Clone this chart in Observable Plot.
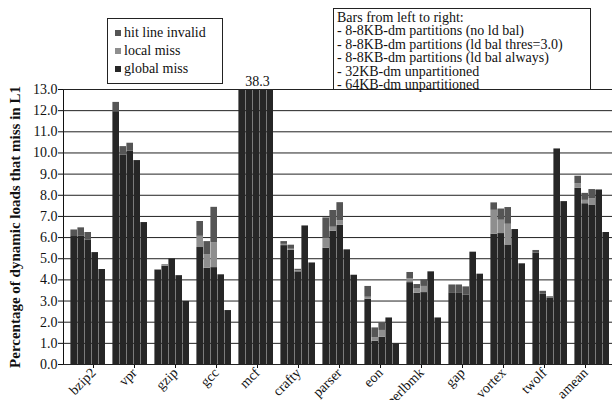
<!DOCTYPE html>
<html>
<head>
<meta charset="utf-8">
<script src="https://cdn.jsdelivr.net/npm/d3@7"></script>
<script src="https://cdn.jsdelivr.net/npm/@observablehq/plot@0.6"></script>
<style>
  body { margin: 0; background: #fff; }
  #wrap { position: relative; width: 612px; height: 400px; overflow: hidden; font-family: "Liberation Serif", "Times New Roman", serif; }
  #wrap svg { position: absolute; left: 0; top: 0; }
  .box { position: absolute; background: #fff; border: 1px solid #222; box-sizing: border-box; font-family: "Liberation Serif", "Times New Roman", serif !important; font-size: 14px; color: #111; }
  #leg1 { left: 107px; top: 18px; width: 116px; height: 66px; padding: 5px 0 0 7px; }
  #leg1 .row { height: 18px; line-height: 18px; white-space: nowrap; }
  #leg1 .sw { display: inline-block; width: 6px; height: 6px; margin-right: 3px; vertical-align: 1px; }
  #leg2 { left: 333px; top: 8px; width: 258px; height: 82px; padding: 2px 0 0 3px; line-height: 13.4px; white-space: nowrap; }
</style>
</head>
<body>
<div id="wrap"></div>
<script>
const benchmarks = ["bzip2","vpr","gzip","gcc","mcf","crafty","parser","eon","perlbmk","gap","vortex","twolf","amean"];
const configs = [
  "8-8KB-dm partitions (no ld bal)",
  "8-8KB-dm partitions (ld bal thres=3.0)",
  "8-8KB-dm partitions (ld bal always)",
  "32KB-dm unpartitioned",
  "64KB-dm unpartitioned"
];
const seriesNames = ["global miss", "local miss", "hit line invalid"];
const seriesColors = ["#262626", "#8e8e8e", "#555555"];

// values per benchmark, one entry per configuration (left to right)
const globalMiss = [
  [6.05, 6.08, 5.89, 5.29, 4.49],
  [11.95, 9.89, 10.08, 9.64, 6.71],
  [4.45, 4.65, 4.99, 4.20, 2.98],
  [5.53, 4.55, 4.58, 4.24, 2.55],
  [38.3, 38.3, 38.3, 38.3, 38.3],
  [5.62, 5.40, 4.38, 6.55, 4.80],
  [5.50, 6.30, 6.58, 5.42, 4.22],
  [3.09, 1.10, 1.29, 2.20, 0.98],
  [3.87, 3.37, 3.40, 4.38, 2.20],
  [3.39, 3.39, 3.29, 5.31, 4.27],
  [6.16, 6.19, 5.65, 6.38, 4.76],
  [5.26, 3.32, 3.15, 10.19, 7.70],
  [8.33, 7.60, 7.54, 8.25, 6.24]
];
const localMiss = [
  [0, 0, 0, 0, 0],
  [0, 0, 0, 0, 0],
  [0.03, 0.03, 0, 0, 0],
  [0.53, 0.63, 1.18, 0, 0],
  [0, 0, 0, 0, 0],
  [0.06, 0.05, 0.05, 0, 0],
  [0.45, 0.19, 0.22, 0, 0],
  [0.09, 0.16, 0.32, 0, 0],
  [0.19, 0.20, 0.29, 0, 0],
  [0, 0, 0, 0, 0],
  [1.13, 0.63, 0.98, 0, 0],
  [0, 0, 0.03, 0, 0],
  [0.22, 0.16, 0.29, 0, 0]
];
const hitInvalid = [
  [0.31, 0.38, 0.35, 0, 0],
  [0.44, 0.41, 0.38, 0, 0],
  [0.01, 0.03, 0, 0, 0],
  [0.70, 0.63, 1.67, 0, 0],
  [0, 0, 0, 0, 0],
  [0.13, 0.19, 0.07, 0, 0],
  [0.98, 0.79, 0.85, 0, 0],
  [0.51, 0.47, 0.36, 0, 0],
  [0.29, 0.21, 0.31, 0, 0],
  [0.37, 0.37, 0.38, 0, 0],
  [0.35, 0.53, 0.79, 0, 0],
  [0.13, 0.14, 0.03, 0, 0],
  [0.35, 0.33, 0.44, 0, 0]
];
const yTicks = [0,1,2,3,4,5,6,7,8,9,10,11,12,13];
const yTitle = "Percentage of dynamic loads that miss in L1";

const rows = [];
benchmarks.forEach((b, i) => configs.forEach((c, j) => {
  rows.push({bench: b, config: c, series: seriesNames[0], value: globalMiss[i][j]});
  rows.push({bench: b, config: c, series: seriesNames[1], value: localMiss[i][j]});
  rows.push({bench: b, config: c, series: seriesNames[2], value: hitInvalid[i][j]});
}));

const yMax = 13;
const overflow = benchmarks.map((b, i) => {
  const tot = d3.max(configs.map((c, j) => globalMiss[i][j] + localMiss[i][j] + hitInvalid[i][j]));
  return {bench: b, total: tot};
}).filter(d => d.total > yMax).map(d => ({...d, label: d3.format(".1f")(d.total)}));

const W = 612, H = 400;
const margins = {marginLeft: 63, marginRight: 0, marginTop: 89, marginBottom: 36};
const bandRange = [66.5, 610.7];
const font = "'Liberation Serif', 'Times New Roman', serif";

const back = Plot.plot({
  width: W, height: H, ...margins,
  style: {fontFamily: font, fontSize: "14px", color: "#111", background: "transparent"},
  x: {domain: benchmarks, range: bandRange, paddingInner: 0.14, paddingOuter: 0, tickRotate: -45, tickSize: 4, tickPadding: 2, label: null},
  y: {domain: [0, yMax], ticks: yTicks, tickFormat: d3.format(".1f"), tickSize: 5, tickPadding: 1, label: null, line: true},
  marks: [
    Plot.ruleY(yTicks, {stroke: "#222", strokeWidth: 1}),
    Plot.text(overflow, {x: "bench", y: () => yMax, text: "label", dy: -4, lineAnchor: "bottom", fontSize: 14, fill: "#111"}),
    Plot.text([yTitle], {text: d => d, frameAnchor: "left", textAnchor: "middle", rotate: -90, dx: -48, fontWeight: "bold", fontSize: 15, fill: "#111"})
  ]
});

const bars = Plot.plot({
  width: W, height: H, ...margins,
  style: {background: "transparent"},
  facet: {data: rows, x: "bench"},
  fx: {domain: benchmarks, range: bandRange, paddingInner: 0.14, paddingOuter: 0, axis: null, label: null},
  x: {domain: configs, padding: 0, axis: null},
  y: {domain: [0, yMax], clamp: true, axis: null},
  color: {domain: seriesNames, range: seriesColors},
  marks: [
    Plot.barY(rows, {x: "config", y: "value", fill: "series", insetLeft: 0.4})
  ]
});

const wrap = document.getElementById("wrap");
wrap.appendChild(back);
wrap.appendChild(bars);

const leg1 = document.createElement("div");
leg1.className = "box"; leg1.id = "leg1";
const legendOrder = [2, 1, 0];
leg1.innerHTML = legendOrder.map(k => `<div class="row"><span class="sw" style="background:${seriesColors[k]}"></span>${seriesNames[k]}</div>`).join("");
wrap.appendChild(leg1);

const leg2 = document.createElement("div");
leg2.className = "box"; leg2.id = "leg2";
leg2.innerHTML = ["Bars from left to right:"].concat(configs.map(c => "- " + c)).map(t => `<div>${t}</div>`).join("");
wrap.appendChild(leg2);
</script>
</body>
</html>
